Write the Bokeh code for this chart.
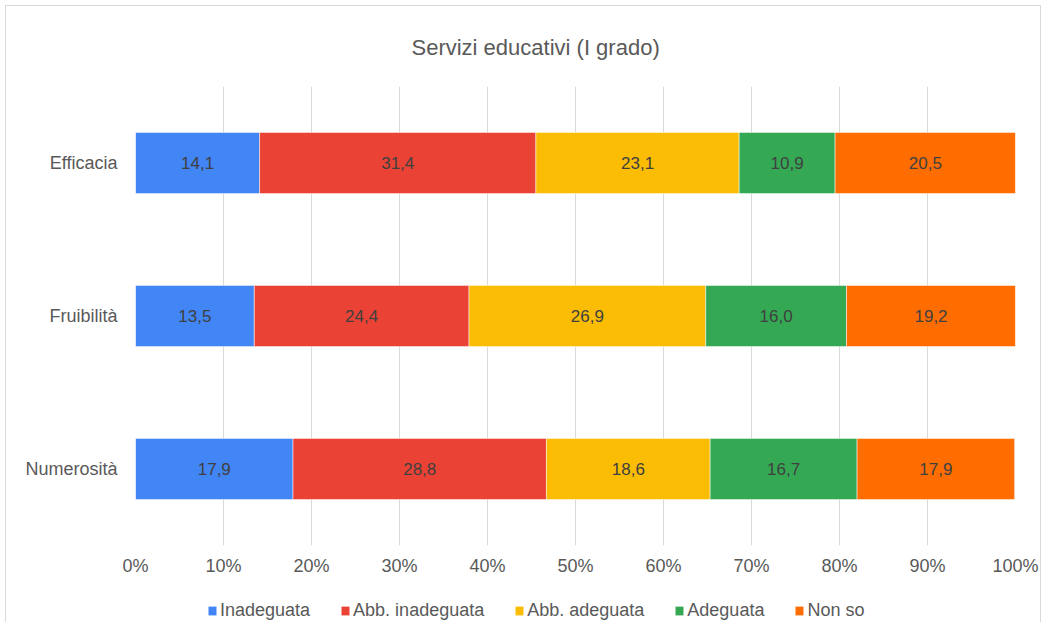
from bokeh.plotting import figure
from bokeh.layouts import column
from bokeh.models import ColumnDataSource, FactorRange, Range1d, Legend, LegendItem, NumeralTickFormatter, FixedTicker
from bokeh.core.properties import value
from bokeh.embed import file_html
from bokeh.resources import INLINE

title = "Servizi educativi (I grado)"
categories = ["Efficacia", "Fruibilità", "Numerosità"]
series = ["Inadeguata", "Abb. inadeguata", "Abb. adeguata", "Adeguata", "Non so"]
colors = ["#4285F4", "#EA4335", "#FBBC04", "#34A853", "#FF6D01"]
inadeguata = [14.1, 13.5, 17.9]
abb_inadeguata = [31.4, 24.4, 28.8]
abb_adeguata = [23.1, 26.9, 18.6]
adeguata = [10.9, 16.0, 16.7]
non_so = [20.5, 19.2, 17.9]
x_ticks = [0, 10, 20, 30, 40, 50, 60, 70, 80, 90, 100]

FONT = "Liberation Sans"
GREY = "#595959"
W = 1034
values = [inadeguata, abb_inadeguata, abb_adeguata, adeguata, non_so]
data = {"cat": categories}
for s, v in zip(series, values):
    data[s] = v
source = ColumnDataSource(data)

p = figure(width=W, height=584, output_backend="svg", toolbar_location=None,
           y_range=FactorRange(factors=categories[::-1], range_padding=0),
           x_range=Range1d(0, 100))
p.min_border_left = 129
p.min_border_right = 25
p.min_border_top = 79
p.min_border_bottom = 45
p.outline_line_color = None
p.background_fill_color = "white"
p.border_fill_color = "white"

p.title.text = title
p.title.align = "left"
p.title.offset = 276
p.title.text_font = FONT
p.title.text_font_size = "22px"
p.title.text_font_style = "normal"
p.title.text_color = GREY
p.title.standoff = 53

p.hbar_stack(series, y="cat", height=0.4, color=colors, source=source,
             line_color="white", line_width=0.5)

# data labels
for i, s in enumerate(series):
    xs, ys, ts = [], [], []
    for j, c in enumerate(categories):
        left = sum(values[k][j] for k in range(i))
        xs.append(left + values[i][j] / 2)
        ys.append(c)
        ts.append(f"{values[i][j]:.1f}".replace(".", ","))
    p.text(x=xs, y=ys, text=ts, text_align="center", text_baseline="middle",
           text_font=value(FONT), text_font_size="17px", text_color="#404040")

p.xaxis.ticker = FixedTicker(ticks=x_ticks)
p.xaxis.formatter = NumeralTickFormatter(format="0")
p.xaxis.major_label_overrides = {t: f"{t}%" for t in x_ticks}
for ax in (p.xaxis, p.yaxis):
    ax.axis_line_color = None
    ax.major_tick_line_color = None
    ax.minor_tick_line_color = None
    ax.major_label_text_font = FONT
    ax.major_label_text_font_size = "18px"
    ax.major_label_text_color = GREY
p.xaxis.major_label_standoff = 4
p.yaxis.major_label_standoff = 12

p.xgrid.grid_line_color = "#d9d9d9"
p.xgrid.grid_line_width = 1
p.ygrid.grid_line_color = None

# legend strip (swatch renderers hold one point outside the visible range)
lg = figure(width=W, height=32, output_backend="svg", toolbar_location=None,
            x_axis_type=None, y_axis_type=None,
            x_range=Range1d(0, 1), y_range=Range1d(0, 1))
lg.min_border = 0
lg.outline_line_color = None
lg.grid.grid_line_color = None
items = []
for s, c in zip(series, colors):
    r = lg.vbar(x=[-5], top=[-5], bottom=[-6], width=1, fill_color=c, line_color=None)
    items.append(LegendItem(label=s, renderers=[r]))
legend = Legend(items=items, orientation="horizontal", location=(72, 1),
                label_text_font=FONT, label_text_font_size="18px", label_text_color=GREY,
                glyph_width=10, glyph_height=11, label_standoff=3, spacing=30,
                border_line_color=None, background_fill_alpha=0, margin=0, padding=0,
                label_height=20)
lg.add_layout(legend, "center")

layout = column(p, lg, spacing=0)
layout.margin = (5, 0, 0, 5)
layout.styles = {"border": "1px solid #d9d9d9", "border-bottom": "none"}

open("out.html", "w").write(file_html(layout, INLINE))
